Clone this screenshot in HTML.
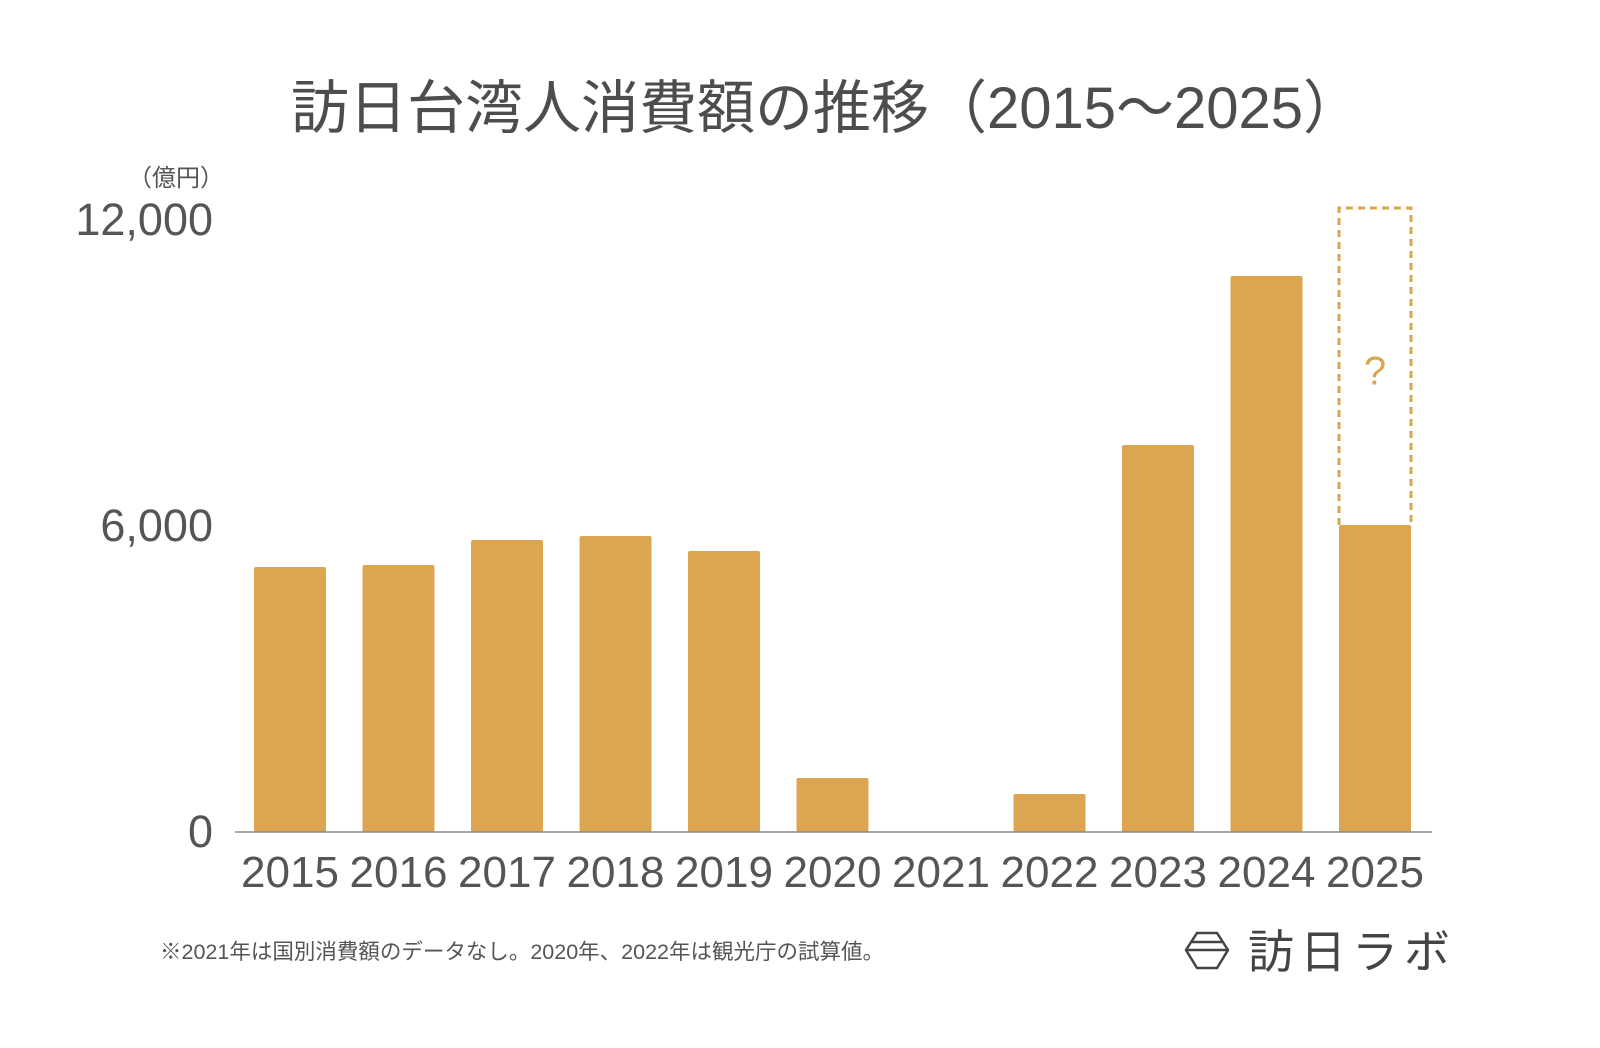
<!DOCTYPE html>
<html><head><meta charset="utf-8"><style>
body{margin:0;background:#fff;}
svg text{font-family:"Liberation Sans","Noto Sans CJK JP",sans-serif;}
</style></head><body>
<svg id="chart" width="1600" height="1043" viewBox="0 0 1600 1043" xmlns="http://www.w3.org/2000/svg">
<rect width="1600" height="1043" fill="#fff"/>
<text x="826" y="128" text-anchor="middle" font-size="58" fill="#4d4d4d">訪日台湾人消費額の推移（2015〜2025）</text>
<text x="176" y="186" text-anchor="middle" font-size="24" fill="#555">（億円）</text>
<g id="yaxis"></g>
<g id="bars"></g>
<g id="xaxis"></g>
<line x1="235" y1="832" x2="1432" y2="832" stroke="#888" stroke-width="1.5"/>
<text x="160" y="959" font-size="21.5" fill="#555">※2021年は国別消費額のデータなし。2020年、2022年は観光庁の試算値。</text>
<g>
<polygon points="1197,933 1217,933 1228,950 1217,968 1197,968 1186,950" fill="none" stroke="#444" stroke-width="2.5"/>
<line x1="1192" y1="942" x2="1222" y2="942" stroke="#444" stroke-width="2.5"/>
<line x1="1186" y1="950" x2="1228" y2="950" stroke="#444" stroke-width="2.5"/>
<text x="1248" y="968" font-size="46" fill="#444" letter-spacing="6">訪日ラボ</text>
</g>
</svg>
<script>
const categories=["2015","2016","2017","2018","2019","2020","2021","2022","2023","2024","2025"];
const values=[5196,5235,5725,5804,5510,1059,0,745,7588,10902,6020];
const forecastMax=12235;
const yTicks=[0,6000,12000];
const yTickLabels=["0","6,000","12,000"];
const NS="http://www.w3.org/2000/svg";
const y0=832,yTop=220,maxV=12000;
function y(v){return y0-(y0-yTop)*v/maxV;}
function xc(i){return 290+i*108.5;}
const bw=72;
function mk(t,a,p){const e=document.createElementNS(NS,t);for(const k in a)e.setAttribute(k,a[k]);p.appendChild(e);return e;}
const ya=document.getElementById('yaxis'),bg=document.getElementById('bars'),xa=document.getElementById('xaxis');
yTicks.forEach((t,i)=>{const e=mk('text',{x:213,y:y(t)+15,'text-anchor':'end','font-size':45,fill:'#555'},ya);e.textContent=yTickLabels[i];

});
categories.forEach((c,i)=>{
 if(values[i]>0){const r=mk('rect',{x:xc(i)-bw/2,y:y(values[i]),width:bw,height:y0-y(values[i]),fill:'#dca550',rx:2},bg);
 
 }
 const t=mk('text',{x:xc(i),y:887,'text-anchor':'middle','font-size':44,fill:'#555'},xa);t.textContent=c;
 
 
});
const li=categories.length-1;
const d=mk('path',{d:`M${xc(li)-bw/2},${y(values[li])} V${y(forecastMax)} H${xc(li)+bw/2} V${y(values[li])}`,fill:'none',stroke:'#dca550','stroke-width':3,'stroke-dasharray':'7,5'},bg);


const q=mk('text',{x:xc(li),y:(y(forecastMax)+y(values[li]))/2+18,'text-anchor':'middle','font-size':40,fill:'#dca550'},bg);q.textContent='?';


</script>
</body></html>
